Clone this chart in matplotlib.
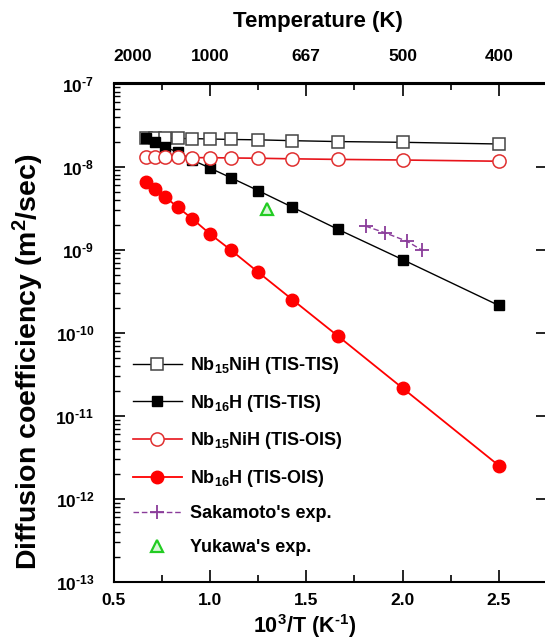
import numpy as np
import matplotlib
matplotlib.use("Agg")
import matplotlib.pyplot as plt
from matplotlib.ticker import FixedLocator, FuncFormatter, NullFormatter

plt.rcParams['font.family'] = ['Liberation Sans', 'DejaVu Sans']
plt.rcParams['font.weight'] = 'bold'
plt.rcParams['mathtext.fontset'] = 'custom'
plt.rcParams['mathtext.rm'] = 'Liberation Sans:bold'
plt.rcParams['mathtext.bf'] = 'Liberation Sans:bold'
plt.rcParams['mathtext.it'] = 'Liberation Sans:bold'
plt.rcParams['mathtext.default'] = 'bf'
plt.rcParams['axes.unicode_minus'] = False

# ---- data ----
temperature_K = [1500, 1400, 1300, 1200, 1100, 1000, 900, 800, 700, 600, 500, 400]
nb15nih_tis_tis = [2.21e-8, 2.20e-8, 2.19e-8, 2.18e-8, 2.17e-8, 2.15e-8,
                   2.12e-8, 2.10e-8, 2.05e-8, 2.00e-8, 1.96e-8, 1.87e-8]
nb16h_tis_tis = [2.2e-8, 1.96e-8, 1.71e-8, 1.49e-8, 1.20e-8, 9.6e-9,
                 7.3e-9, 5.15e-9, 3.24e-9, 1.75e-9, 7.6e-10, 2.13e-10]
nb15nih_tis_ois = [1.29e-8, 1.29e-8, 1.29e-8, 1.29e-8, 1.28e-8, 1.28e-8,
                   1.27e-8, 1.26e-8, 1.24e-8, 1.22e-8, 1.20e-8, 1.16e-8]
nb16h_tis_ois = [6.5e-9, 5.3e-9, 4.28e-9, 3.24e-9, 2.35e-9, 1.55e-9,
                 9.8e-10, 5.37e-10, 2.5e-10, 9.05e-11, 2.16e-11, 2.52e-12]
sakamoto_x = [1.808, 1.908, 2.024, 2.103]
sakamoto_y = [1.92e-9, 1.60e-9, 1.26e-9, 9.8e-10]
yukawa_x = [1.298]
yukawa_y = [3.1e-9]

bottom_ticks = [0.5, 1.0, 1.5, 2.0, 2.5]
bottom_labels = ['0.5', '1.0', '1.5', '2.0', '2.5']
top_labels = ['2000', '1000', '667', '500', '400']
y_exponents = [-13, -12, -11, -10, -9, -8, -7]

x = 1000.0 / np.array(temperature_K)

W, H = 545, 640
fig = plt.figure(figsize=(W / 100, H / 100), dpi=100)
left_px, right_px, top_px, bot_px = 113.6, 547.0, 83.5, 582.0
ax = fig.add_axes([left_px / W, 1 - bot_px / H, (right_px - left_px) / W, (bot_px - top_px) / H])

ax.plot(x, nb15nih_tis_tis, '-', color='black', lw=1.0, marker='s', ms=8.5,
        mfc='white', mec='#444444', mew=1.1, label=r'Nb$_{15}$NiH (TIS-TIS)')
ax.plot(x, nb16h_tis_tis, '-', color='black', lw=1.0, marker='s', ms=7.5,
        mfc='black', mec='black', label=r'Nb$_{16}$H (TIS-TIS)')
ax.plot(x, nb15nih_tis_ois, '-', color='#e8141b', lw=1.2, marker='o', ms=9.5,
        mfc='white', mec='#e03030', mew=1.1, label=r'Nb$_{15}$NiH (TIS-OIS)')
ax.plot(x, nb16h_tis_ois, '-', color='#ff0000', lw=1.3, marker='o', ms=9,
        mfc='#ff0000', mec='#ff0000', label=r'Nb$_{16}$H (TIS-OIS)')
ax.plot(sakamoto_x, sakamoto_y, color='#8a3c9a', lw=1.0, ls=(0, (4, 2)), marker='+',
        ms=10, mew=1.3, label="Sakamoto's exp.")
ax.plot(yukawa_x, yukawa_y, ls='none', marker='^', ms=9, mfc='#d8f8d8', mec='#22cc22',
        mew=1.6, label="Yukawa's exp.")

ax.set_yscale('log')
ax.set_ylim(1e-13, 1e-7)
ax.set_xlim(0.5, 2.75)

ax.xaxis.set_major_locator(FixedLocator(bottom_ticks))
ax.set_xticklabels(bottom_labels)
ax.xaxis.set_minor_locator(FixedLocator([0.75, 1.25, 1.75, 2.25]))
major_y = [10.0 ** e for e in y_exponents]
minor_y = [m * 10.0 ** e for e in y_exponents[:-1] for m in range(2, 10)]
ax.yaxis.set_major_locator(FixedLocator(major_y))
ax.yaxis.set_minor_locator(FixedLocator(minor_y))
ax.yaxis.set_minor_formatter(NullFormatter())
ax.yaxis.set_major_formatter(FuncFormatter(
    lambda v, p: r'$10^{\text{-}%d}$' % abs(int(round(np.log10(v))))))

ax.tick_params(axis='x', which='major', direction='in', length=9, width=1.2, labelsize=12.5, pad=8)
ax.tick_params(axis='x', which='minor', direction='in', length=5, width=1.2)
ax.tick_params(axis='y', which='major', direction='in', length=8, width=1.2, labelsize=12.5, pad=14,
               right=True)
ax.tick_params(axis='y', which='minor', direction='in', length=4, width=1.0, right=False)
for lbl in ax.get_xticklabels() + ax.get_yticklabels():
    lbl.set_fontweight('bold')

for s in ax.spines.values():
    s.set_linewidth(1.5)

top = ax.secondary_xaxis('top')
top.xaxis.set_major_locator(FixedLocator(bottom_ticks))
top.set_xticklabels(top_labels)
top.xaxis.set_minor_locator(FixedLocator([0.75, 1.25, 1.75, 2.25]))
top.tick_params(axis='x', which='major', direction='in', length=9, width=1.2, labelsize=12.5, pad=14)
top.tick_params(axis='x', which='minor', direction='in', length=5, width=1.2)
top.spines['top'].set_linewidth(1.5)
for lbl in top.get_xticklabels():
    lbl.set_fontweight('bold')
top.get_xticklabels()[0].set_horizontalalignment('left')

fig.text(305 / W, 1 - 633 / H, r'10$^{3}$/T (K$^{\text{-}1}$)', ha='center', va='baseline',
         fontsize=15.5, fontweight='bold')
fig.text(318 / W, 1 - 21 / H, 'Temperature (K)', ha='center', va='center',
         fontsize=16, fontweight='bold')
fig.text(28 / W, 1 - 362 / H, r'Diffusion coefficiency (m$^{2}$/sec)', ha='center', va='center',
         rotation=90, fontsize=20.5, fontweight='bold')

leg = ax.legend(loc='upper left', bbox_to_anchor=((133 - left_px) / (right_px - left_px),
                                                  (bot_px - 355) / (bot_px - top_px)),
                frameon=False, fontsize=13, handlelength=2.7, handletextpad=0.45,
                labelspacing=0.92, borderpad=0, borderaxespad=0)
for t in leg.get_texts():
    t.set_fontweight('bold')

fig.savefig('out.png', dpi=100)
